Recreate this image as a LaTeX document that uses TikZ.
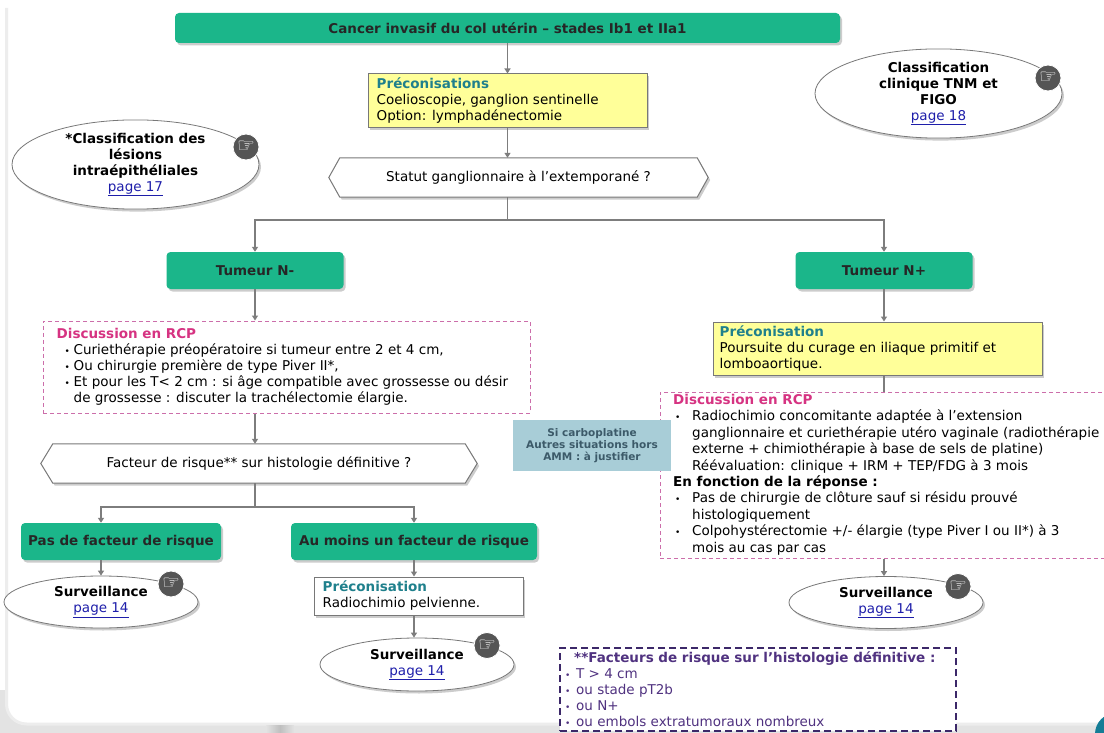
\documentclass[tikz,border=0pt]{standalone}
\usepackage{fontspec}
\setmainfont{DejaVu Sans}
\usetikzlibrary{shapes.geometric,shadows,arrows.meta,calc}
\definecolor{grn}{RGB}{27,182,138}
\definecolor{yel}{RGB}{255,255,153}
\definecolor{tealhd}{RGB}{31,128,140}
\definecolor{rcp}{RGB}{214,51,130}
\definecolor{rcpline}{RGB}{204,110,170}
\definecolor{purp}{RGB}{60,40,105}
\definecolor{purptxt}{RGB}{80,50,128}
\definecolor{bluebox}{RGB}{168,205,215}
\definecolor{bluetxt}{RGB}{60,90,105}
\definecolor{linkblue}{RGB}{30,30,170}
\definecolor{arrgray}{RGB}{125,125,125}
\definecolor{boxgray}{RGB}{120,120,120}
\definecolor{handgray}{RGB}{85,85,85}
\definecolor{tealdot}{RGB}{20,125,150}
\pgfdeclarelayer{background}
\pgfsetlayers{background,main}
\newcommand\hd[1]{\textbf{\textcolor{tealhd}{#1}}}
\newcommand\lnk[1]{\textcolor{linkblue}{\underline{#1}}}
\newcommand\bulL{\hspace*{8pt}\makebox[9pt][l]{\fontsize{9}{9}\selectfont •}}
\newcommand\indL{\hspace*{17pt}}
\newcommand\bulR{\hspace*{2pt}\makebox[17pt][l]{\fontsize{9}{9}\selectfont •}}
\newcommand\indR{\hspace*{19pt}}
\newcommand\bulP{\makebox[11pt][l]{\fontsize{9}{9}\selectfont •}}
\tikzset{
 base/.style={font=\fontsize{13.5}{16}\selectfont},
 txt/.style={base, inner sep=0pt, align=left},
 shadowed/.style={drop shadow={shadow xshift=2pt, shadow yshift=-2.5pt, opacity=0.4}},
 greenbox/.style={font=\fontsize{13.5}{16}\selectfont\bfseries, fill=grn, rounded corners=4pt, text=black!85, shadowed, inner sep=0pt},
 yelbox/.style={fill=yel, draw=boxgray, line width=1pt, shadowed, inner sep=0pt},
 whitebox/.style={fill=white, draw=boxgray, line width=1pt, shadowed, inner sep=0pt},
 oval/.style={ellipse, fill=white, draw=boxgray, line width=0.8pt, shadowed, inner sep=0pt, base, align=center},
 hexfrm/.style={draw=boxgray, line width=1pt, fill=white, shadowed},
 hexbox/.style={base, inner sep=0pt},
 rcpbox/.style={draw=rcpline, dash pattern=on 4pt off 3pt, line width=1pt, inner sep=0pt},
 purpbox/.style={draw=purp, dash pattern=on 7pt off 4pt, line width=2pt, fill=white, inner sep=0pt},
 bluebx/.style={fill=bluebox, inner sep=0pt, align=center, font=\fontsize{10.5}{12}\selectfont\bfseries, text=bluetxt},
 arr/.style={draw=arrgray, line width=1.6pt, -{Triangle[length=5pt,width=6pt]}},
 conn/.style={draw=arrgray, line width=1.6pt},
 hand/.style={circle, fill=handgray, draw=white, line width=0.8pt, minimum size=26pt, inner sep=0pt, text=white, font=\fontsize{20}{20}\selectfont},
}
\begin{document}
\begin{tikzpicture}[x=1pt,y=-1pt]
\useasboundingbox (0,0) rectangle (1104,733);
\begin{pgfonlayer}{background}
 \fill[gray!22] (0,690) rectangle (1104,733);
 \fill[white, rounded corners=20pt] (6.5,-5) -- (6.5,724) -- (1140,724) -- (1140,-5) -- cycle;
 \draw[gray!14, line width=3pt, rounded corners=20pt] (6.5,8) -- (6.5,724) -- (1140,724);
 \shade[left color=gray!22, right color=gray!22, middle color=gray!50] (266,725.5) rectangle (294,733);
\end{pgfonlayer}

% top
\node[greenbox, minimum width=665, minimum height=30] (title) at (507.5,28) {Cancer invasif du col utérin – stades Ib1 et IIa1};
\node[yelbox, minimum width=279, minimum height=54] (yel1) at (507.5,101) {};
\node[txt, anchor=west] (yel1t) at ([xshift=9pt]yel1.west) {\hd{Préconisations}\\Coelioscopie, ganglion sentinelle\\Option: lymphadénectomie};
\node[hexbox, minimum width=357, minimum height=39] (hex1) at (518.5,177.5) {Statut ganglionnaire à l’extemporané ?};

\node[oval, minimum width=247, minimum height=89] (ellTL) at (135.5,164.5) {\textbf{*Classification des}\\\textbf{lésions}\\\textbf{intraépithéliales}\\\lnk{page 17}};
\node[hand] (handTL) at ([shift={(110.5,-17.5)}]ellTL.center) {☞};
\node[oval, minimum width=247, minimum height=87] (ellTR) at (938.5,93.5) {\textbf{Classification}\\\textbf{clinique TNM et}\\\textbf{FIGO}\\\lnk{page 18}};
\node[hand] (handTR) at ([shift={(109.5,-15.5)}]ellTR.center) {☞};

% left branch
\node[greenbox, minimum width=177, minimum height=37] (tumN) at (255,270.5) {Tumeur N-};
\node[rcpbox, minimum width=487, minimum height=92] (rcpL) at (286.5,367) {};
\node[txt, anchor=west] (rcpLt) at ([xshift=14pt]rcpL.west) {\textbf{\textcolor{rcp}{Discussion en RCP}}\\
\bulL Curiethérapie préopératoire si tumeur entre 2 et 4 cm,\\
\bulL Ou chirurgie première de type Piver II*,\\
\bulL Et pour les T< 2 cm : si âge compatible avec grossesse ou désir\\
\indL de grossesse : discuter la trachélectomie élargie.};
\node[hexbox, minimum width=412, minimum height=39] (hex2) at (259,463.5) {Facteur de risque** sur histologie définitive ?};
\node[greenbox, minimum width=200, minimum height=37] (pas) at (121,541.5) {Pas de facteur de risque};
\node[greenbox, minimum width=246, minimum height=37] (aum) at (414,541.5) {Au moins un facteur de risque};
\node[oval, minimum width=194, minimum height=52] (survL) at (101,602) {\textbf{Surveillance}\\\lnk{page 14}};
\node[hand] (handL) at ([shift={(70,-18)}]survL.center) {☞};
\node[whitebox, minimum width=209, minimum height=38] (precW) at (418.5,596) {};
\node[txt, anchor=west] (precWt) at ([xshift=9pt]precW.west) {\hd{Préconisation}\\Radiochimio pelvienne.};
\node[oval, minimum width=194, minimum height=53] (survM) at (417,664.5) {\textbf{Surveillance}\\\lnk{page 14}};
\node[hand] (handM) at ([shift={(70,-19)}]survM.center) {☞};

% right branch
\node[greenbox, minimum width=177, minimum height=37] (tumP) at (884,270.5) {Tumeur N+};
\node[yelbox, minimum width=329, minimum height=53] (yel2) at (877.5,348.5) {};
\node[txt, anchor=west] (yel2t) at ([xshift=7pt]yel2.west) {\hd{Préconisation}\\Poursuite du curage en iliaque primitif et\\lomboaortique.};
\node[rcpbox, minimum width=460, minimum height=166] (rcpR) at (890,475) {};
\node[txt, anchor=north west, font=\fontsize{13.5}{16.4}\selectfont] (rcpRt) at (673,394) {\textbf{\textcolor{rcp}{Discussion en RCP}}\\
\bulR Radiochimio concomitante adaptée à l’extension\\
\indR ganglionnaire et curiethérapie utéro vaginale (radiothérapie\\
\indR externe + chimiothérapie à base de sels de platine)\\
\indR Réévaluation: clinique + IRM + TEP/FDG à 3 mois\\
\textbf{En fonction de la réponse :}\\
\bulR Pas de chirurgie de clôture sauf si résidu prouvé\\
\indR histologiquement\\
\bulR Colpohystérectomie +/- élargie (type Piver I ou II*) à 3\\
\indR mois au cas par cas};
\node[bluebx, minimum width=158, minimum height=51] (blue) at (592,445.5) {Si carboplatine\\Autres situations hors\\AMM : à justifier};
\node[oval, minimum width=194, minimum height=52] (survR) at (886,602.5) {\textbf{Surveillance}\\\lnk{page 14}};
\node[hand] (handR) at ([shift={(72,-16)}]survR.center) {☞};

% footnote box
\node[purpbox, minimum width=396, minimum height=83] (purp) at (758,689.5) {};
\node[txt, anchor=north west, text=purptxt] (purpt) at (565,651) {\hspace*{9pt}\textbf{**Facteurs de risque sur l’histologie définitive :}\\
\bulP T > 4 cm\\
\bulP ou stade pT2b\\
\bulP ou N+\\
\bulP ou embols extratumoraux nombreux};

% hexagon frames
\begin{pgfonlayer}{background}
\draw[hexfrm] (hex1.north west) -- (hex1.north east) -- ([xshift=11pt]hex1.east) -- (hex1.south east) -- (hex1.south west) -- ([xshift=-11pt]hex1.west) -- cycle;
\draw[hexfrm] (hex2.north west) -- (hex2.north east) -- ([xshift=12pt]hex2.east) -- (hex2.south east) -- (hex2.south west) -- ([xshift=-12pt]hex2.west) -- cycle;
\end{pgfonlayer}

% connectors
\coordinate (br1) at (507.5,220);
\coordinate (br2) at (255,507);
\draw[arr] (title.south) -- (yel1.north);
\draw[arr] (yel1.south) -- (yel1.south |- hex1.north);
\draw[conn] (yel1.south |- hex1.south) -- (br1);
\draw[arr] (br1) -| (tumN.north);
\draw[arr] (br1) -| (tumP.north);
\draw[arr] (tumN.south) -- (tumN.south |- rcpL.north);
\draw[arr] (tumN.south |- rcpL.south) -- (tumN.south |- hex2.north);
\draw[conn] (tumN.south |- hex2.south) -- (br2);
\draw[arr] (br2) -| (survL.north |- pas.north);
\draw[arr] (br2) -| (aum.north);
\draw[arr] (survL.north |- pas.south) -- (survL.north);
\draw[arr] (aum.south) -- (aum.south |- precW.north);
\draw[arr] (aum.south |- precW.south) -- (aum.south |- survM.north);
\draw[arr] (tumP.south) -- (tumP.south |- yel2.north);
\draw[conn] (tumP.south |- yel2.south) -- (tumP.south |- rcpR.north);
\draw[arr] (tumP.south |- rcpR.south) -- (tumP.south |- survR.north);

% corner dot
\fill[tealdot] (1116,734) circle (21);
\end{tikzpicture}
\end{document}
